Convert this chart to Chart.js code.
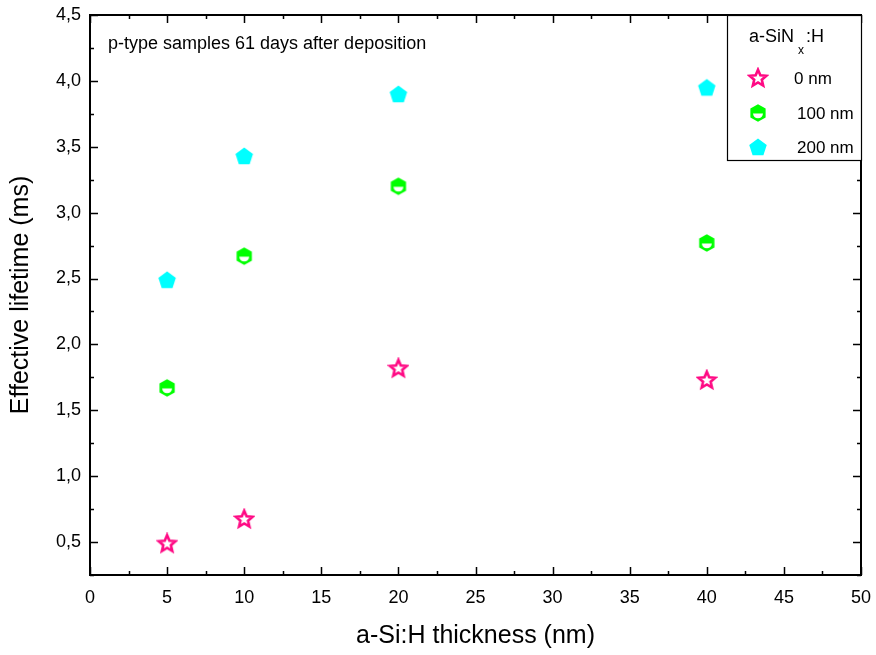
<!DOCTYPE html>
<html>
<head>
<meta charset="utf-8">
<script src="https://cdn.jsdelivr.net/npm/chart.js@4"></script>
<style>
  html, body { margin: 0; padding: 0; background: #fff; }
  #wrap { width: 876px; height: 655px; }
</style>
</head>
<body>
<div id="wrap"><canvas id="c" width="876" height="655"></canvas></div>
<script>
// a-Si:H thickness (nm)
const thickness = [5, 10, 20, 40];
// effective lifetime (ms) per a-SiNx:H thickness
const life0   = [0.49, 0.675, 1.82, 1.73];
const life100 = [1.67, 2.67, 3.20, 2.77];
const life200 = [2.49, 3.43, 3.90, 3.95];

const seriesNames = ["0 nm", "100 nm", "200 nm"];
const xTicks = [0, 5, 10, 15, 20, 25, 30, 35, 40, 45, 50];
const yTicks = [0.5, 1.0, 1.5, 2.0, 2.5, 3.0, 3.5, 4.0, 4.5];

const PINK = "#ff0a84", GREEN = "#00ff00", CYAN = "#00ffff";
const FONT = "'Liberation Sans', Arial, sans-serif";

// marker images
function mk(size, draw) {
  const c = document.createElement("canvas");
  c.width = size; c.height = size;
  const g = c.getContext("2d");
  g.translate(size / 2, size / 2);
  draw(g);
  return c;
}
function starPath(g, ro, ri) {
  g.beginPath();
  for (let i = 0; i < 10; i++) {
    const r = i % 2 ? ri : ro;
    const a = -Math.PI / 2 + i * Math.PI / 5;
    g.lineTo(r * Math.cos(a), r * Math.sin(a) + 0.5);
  }
  g.closePath();
}
const starImg = mk(22, g => {
  starPath(g, 8.8, 4);
  g.lineWidth = 2.6; g.strokeStyle = PINK; g.lineJoin = "miter";
  g.stroke();
});
const hexImg = mk(22, g => {
  g.beginPath();
  for (let i = 0; i < 6; i++) {
    const a = -Math.PI / 2 + i * Math.PI / 3;
    g.lineTo(8.8 * Math.cos(a), 8.8 * Math.sin(a));
  }
  g.closePath();
  g.fillStyle = GREEN; g.fill();
  g.beginPath();
  g.moveTo(-5, 0.5);
  g.lineTo(5, 0.5);
  g.quadraticCurveTo(4.5, 5, 0, 5.3);
  g.quadraticCurveTo(-4.5, 5, -5, 0.5);
  g.closePath();
  g.fillStyle = "#fff"; g.fill();
});
const pentImg = mk(22, g => {
  g.beginPath();
  for (let i = 0; i < 5; i++) {
    const a = -Math.PI / 2 + i * 2 * Math.PI / 5;
    g.lineTo(9.2 * Math.cos(a), 9.2 * Math.sin(a) + 0.8);
  }
  g.closePath();
  g.fillStyle = CYAN; g.fill();
});
const markers = [starImg, hexImg, pentImg];

const pts = arr => thickness.map((x, i) => ({ x, y: arr[i] }));

// inward ticks, frame, note and legend
const frame = {
  id: "frame",
  afterDraw(chart) {
    const { ctx, chartArea: a, scales } = chart;
    const xs = scales.x, ys = scales.y;
    ctx.save();
    ctx.strokeStyle = "#000";
    ctx.lineWidth = 2;
    ctx.strokeRect(a.left, a.top, a.right - a.left, a.bottom - a.top);
    ctx.lineWidth = 1.5;
    ctx.beginPath();
    for (let v = 0; v <= 50; v += 2.5) {
      const px = Math.round(xs.getPixelForValue(v)) + 0.5;
      const len = v % 5 === 0 ? 8 : 4;
      ctx.moveTo(px, a.bottom); ctx.lineTo(px, a.bottom - len);
      ctx.moveTo(px, a.top); ctx.lineTo(px, a.top + len);
    }
    for (let v = 0.25; v <= 4.5; v += 0.25) {
      const py = Math.round(ys.getPixelForValue(v)) + 0.5;
      const len = Math.abs(v * 2 - Math.round(v * 2)) < 1e-6 ? 8 : 4;
      ctx.moveTo(a.left, py); ctx.lineTo(a.left + len, py);
      ctx.moveTo(a.right, py); ctx.lineTo(a.right - len, py);
    }
    ctx.stroke();

    ctx.fillStyle = "#000";
    ctx.font = "18px " + FONT;
    ctx.textBaseline = "middle";
    ctx.fillText("p-type samples 61 days after deposition", 108, 44);

    // legend box
    const lx = 727, ly = a.top, lw = a.right - lx, lh = 145;
    ctx.fillStyle = "#fff";
    ctx.fillRect(lx, ly, lw, lh);
    ctx.lineWidth = 1.2;
    ctx.strokeStyle = "#000";
    ctx.strokeRect(lx + 0.5, ly + 0.5, lw, lh);
    ctx.fillStyle = "#000";
    ctx.font = "18px " + FONT;
    ctx.fillText("a-SiN", 749, 37);
    ctx.font = "12px " + FONT;
    ctx.fillText("x", 798, 51);
    ctx.font = "18px " + FONT;
    ctx.fillText(":H", 806, 37);
    const rows = [78, 113, 147];
    rows.forEach((y, i) => {
      ctx.drawImage(markers[i], 758 - 11, y - 11);
      ctx.fillStyle = "#000";
      ctx.font = "17px " + FONT;
      ctx.fillText(seriesNames[i], i === 0 ? 794 : 797, y + 1);
    });
    ctx.restore();
  }
};

new Chart(document.getElementById("c"), {
  type: "scatter",
  data: {
    datasets: [
      { label: seriesNames[0], data: pts(life0),   pointStyle: starImg, borderColor: PINK,  backgroundColor: PINK },
      { label: seriesNames[1], data: pts(life100), pointStyle: hexImg,  borderColor: GREEN, backgroundColor: GREEN },
      { label: seriesNames[2], data: pts(life200), pointStyle: pentImg, borderColor: CYAN,  backgroundColor: CYAN }
    ]
  },
  options: {
    responsive: false,
    animation: false,
    layout: { padding: { left: 0, right: 15, top: 15, bottom: 0 } },
    plugins: { legend: { display: false }, tooltip: { enabled: false } },
    scales: {
      x: {
        type: "linear", min: 0, max: 50,
        afterBuildTicks: s => { s.ticks = xTicks.map(v => ({ value: v })); },
        afterFit: s => { s.height = 80; s.paddingLeft = 0; s.paddingRight = 0; },
        grid: { display: false, drawTicks: false },
        border: { display: false },
        ticks: { color: "#000", padding: 12, font: { family: FONT, size: 18 } },
        title: { display: true, text: "a-Si:H thickness (nm)", color: "#000",
                 font: { family: FONT, size: 25 }, padding: { top: 0 } }
      },
      y: {
        type: "linear", min: 0.25, max: 4.5,
        afterBuildTicks: s => { s.ticks = yTicks.map(v => ({ value: v })); },
        afterFit: s => { s.width = 90; s.paddingTop = 0; s.paddingBottom = 0; },
        grid: { display: false, drawTicks: false },
        border: { display: false },
        ticks: { color: "#000", padding: 9, font: { family: FONT, size: 18 },
                 callback: v => v.toFixed(1).replace(".", ",") },
        title: { display: true, text: "Effective lifetime (ms)", color: "#000",
                 font: { family: FONT, size: 25 }, padding: { top: 6, bottom: 4 } }
      }
    }
  },
  plugins: [frame]
});
</script>
</body>
</html>
